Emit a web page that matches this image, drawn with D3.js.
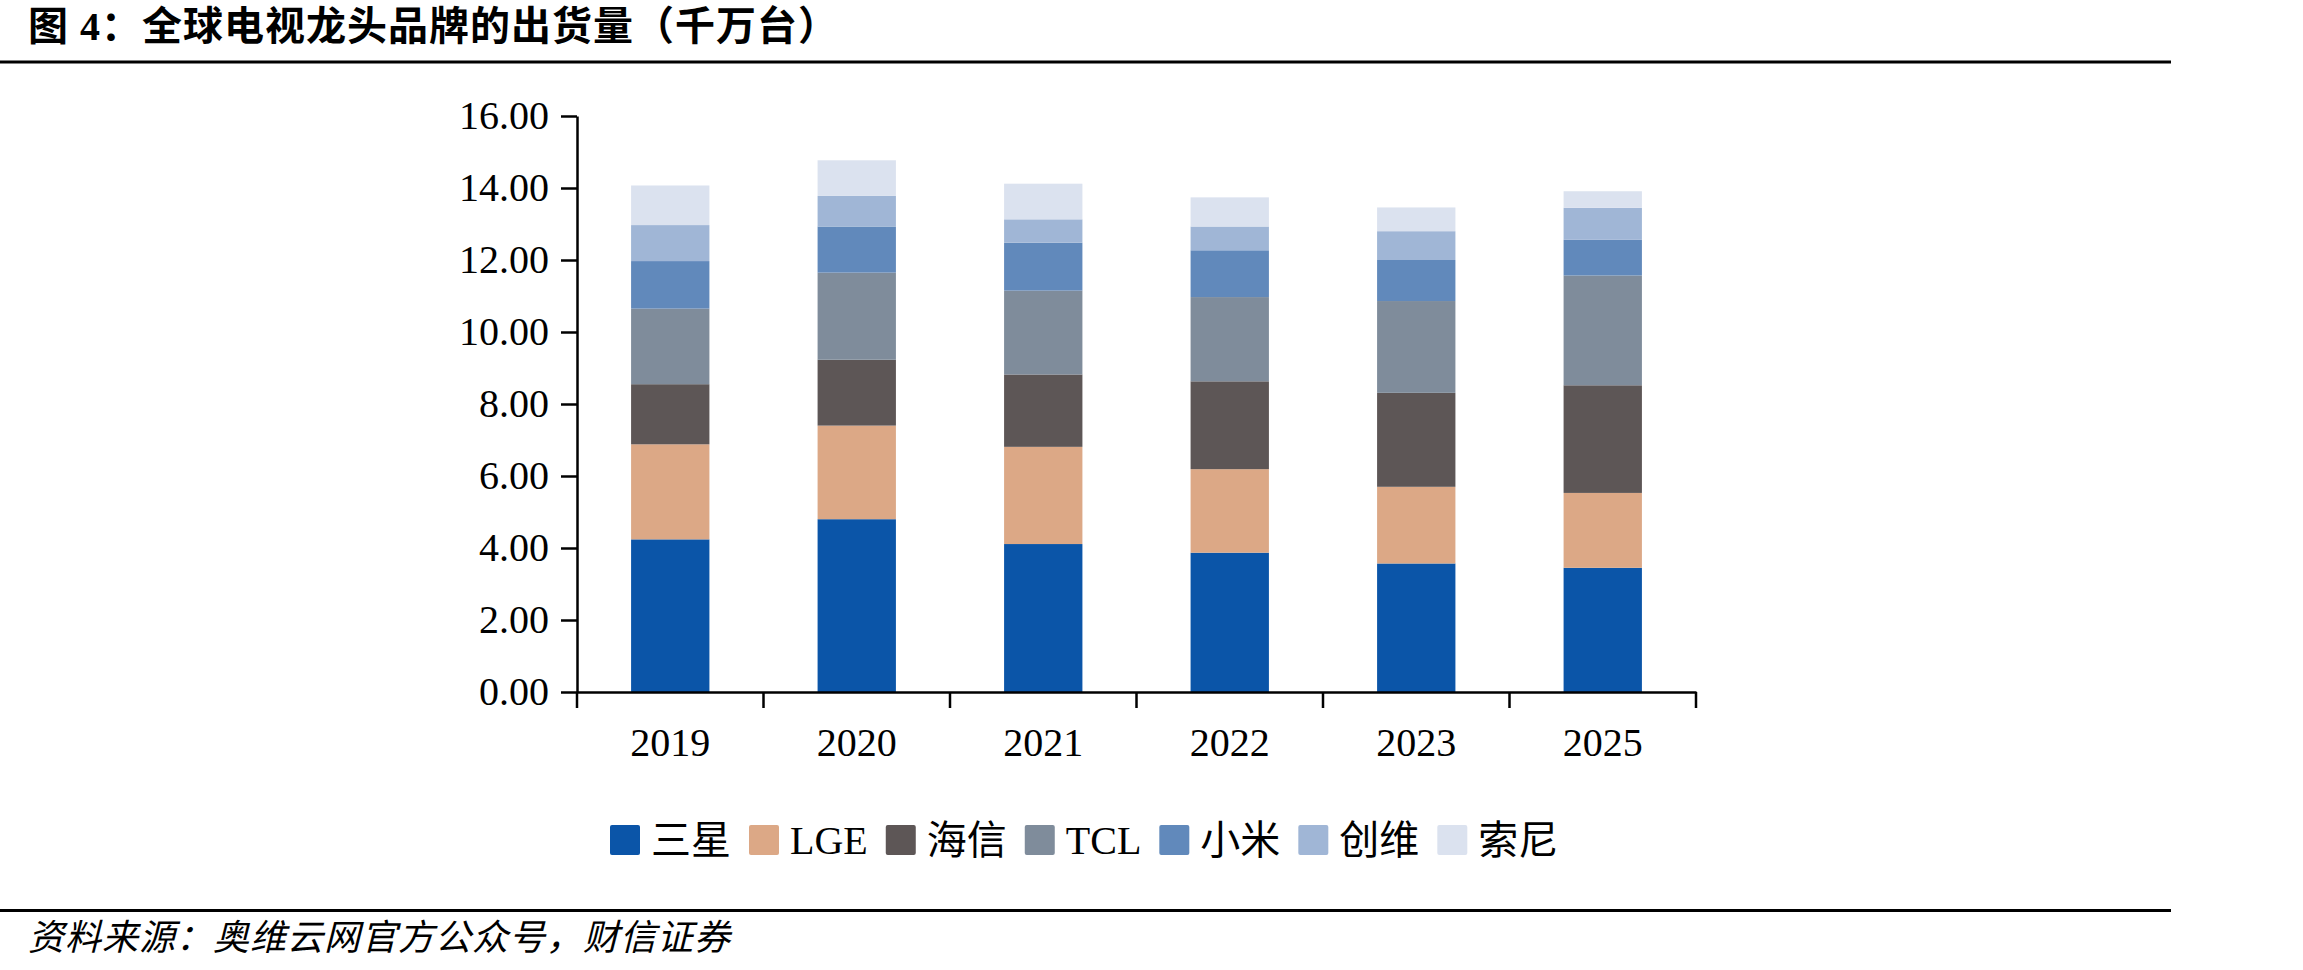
<!DOCTYPE html>
<html>
<head>
<meta charset="utf-8">
<script src="https://cdn.jsdelivr.net/npm/d3@7"></script>
<style>
  html, body { margin: 0; padding: 0; background: #ffffff; }
  svg { display: block; }
</style>
</head>
<body>
<div id="chart"></div>
<script>
// data (千万台)
const years = ["2019", "2020", "2021", "2022", "2023", "2025"];
const brands = ["三星", "LGE", "海信", "TCL", "小米", "创维", "索尼"];
const samsung = [4.24, 4.80, 4.11, 3.87, 3.57, 3.45];
const lge     = [2.64, 2.60, 2.70, 2.32, 2.13, 2.08];
const hisense = [1.67, 1.83, 2.01, 2.44, 2.61, 2.99];
const tcl     = [2.10, 2.42, 2.33, 2.34, 2.55, 3.05];
const xiaomi  = [1.32, 1.28, 1.33, 1.30, 1.14, 0.99];
const skyworth = [1.00, 0.85, 0.65, 0.66, 0.80, 0.89];
const sony    = [1.10, 0.99, 0.99, 0.81, 0.66, 0.46];
const yTicks = [0, 2, 4, 6, 8, 10, 12, 14, 16];

const colors = ["#0b55a8", "#dca886", "#5d5656", "#7f8c9b", "#6189bb", "#a0b6d6", "#dbe2ef"];
const series = [samsung, lge, hisense, tcl, xiaomi, skyworth, sony];

// build the table d3.stack wants
const table = years.map((y, i) => {
    const row = { year: y };
    brands.forEach((b, j) => { row[b] = series[j][i]; });
    return row;
});

const width = 2303, height = 970;
const serif = "'Liberation Serif', 'Times New Roman', 'Noto Sans CJK SC', serif";
const cjk = "'Noto Sans CJK SC', sans-serif";

const svg = d3.select("#chart").append("svg")
    .attr("width", width).attr("height", height);

svg.append("rect").attr("width", width).attr("height", height).attr("fill", "#ffffff");

// title + rules + source
svg.append("text")
    .attr("x", 28).attr("y", 40)
    .attr("font-family", "'Liberation Serif', 'Noto Sans CJK SC', serif")
    .attr("font-weight", 700)
    .attr("font-size", 40)
    .attr("letter-spacing", 1)
    .attr("fill", "#000")
    .text("图 4：全球电视龙头品牌的出货量（千万台）");

svg.append("line").attr("x1", 0).attr("x2", 2171).attr("y1", 62).attr("y2", 62)
    .attr("stroke", "#000").attr("stroke-width", 3);
svg.append("line").attr("x1", 0).attr("x2", 2171).attr("y1", 910.5).attr("y2", 910.5)
    .attr("stroke", "#000").attr("stroke-width", 3);

svg.append("text")
    .attr("x", 28).attr("y", 950)
    .attr("font-family", cjk)
    .attr("font-style", "italic")
    .attr("font-size", 36)
    .attr("letter-spacing", 1)
    .attr("fill", "#000")
    .text("资料来源：奥维云网官方公众号，财信证券");

// scales
const plot = { left: 577, right: 1696, top: 116, bottom: 692 };

const x = d3.scaleBand()
    .domain(years)
    .range([plot.left, plot.right])
    .paddingInner(0.58)
    .paddingOuter(0.29);

const y = d3.scaleLinear()
    .domain([0, 16])
    .range([plot.bottom, plot.top]);

const stack = d3.stack().keys(brands);
const layers = stack(table);

// bars
svg.append("g").selectAll("g")
    .data(layers)
    .join("g")
    .attr("fill", (d, i) => colors[i])
    .selectAll("rect")
    .data(d => d)
    .join("rect")
    .attr("x", d => x(d.data.year))
    .attr("y", d => y(d[1]))
    .attr("width", x.bandwidth())
    .attr("height", d => y(d[0]) - y(d[1]));

// y axis
const yAxis = svg.append("g")
    .attr("transform", `translate(${plot.left},0)`)
    .call(d3.axisLeft(y).tickValues(yTicks).tickFormat(d3.format(".2f"))
        .tickSize(16).tickSizeOuter(0).tickPadding(12));
yAxis.select(".domain").attr("stroke", "#000").attr("stroke-width", 2.5);
yAxis.selectAll(".tick line").attr("stroke", "#000").attr("stroke-width", 2.5);
yAxis.selectAll("text")
    .attr("font-family", serif).attr("font-size", 40).attr("fill", "#000");

// x axis: labels centred in bands, ticks on band boundaries
const xAxis = svg.append("g")
    .attr("transform", `translate(0,${plot.bottom})`)
    .call(d3.axisBottom(x).tickSize(0).tickPadding(36).tickSizeOuter(0));
xAxis.select(".domain").attr("stroke", "#000").attr("stroke-width", 2.5);
xAxis.selectAll("text")
    .attr("font-family", serif).attr("font-size", 40).attr("fill", "#000");

const bounds = d3.range(years.length + 1).map(i => plot.left + i * x.step());
xAxis.selectAll(".bound")
    .data(bounds)
    .join("line")
    .attr("class", "bound")
    .attr("x1", d => d).attr("x2", d => d)
    .attr("y1", 0).attr("y2", 16)
    .attr("stroke", "#000").attr("stroke-width", 2.5);

// legend
const legend = svg.append("g").attr("transform", "translate(0,840)");
let lx = 610;
brands.forEach((b, i) => {
    const item = legend.append("g").attr("transform", `translate(${lx},0)`);
    item.append("rect")
        .attr("x", 0).attr("y", -15)
        .attr("width", 30).attr("height", 30)
        .attr("rx", 2)
        .attr("fill", colors[i]);
    const t = item.append("text")
        .attr("x", 41).attr("y", 0).attr("dy", "0.36em")
        .attr("font-family", serif)
        .attr("font-size", 40)
        .attr("fill", "#000")
        .text(b);
    lx += 41 + t.node().getComputedTextLength() + 18;
});
</script>
</body>
</html>
